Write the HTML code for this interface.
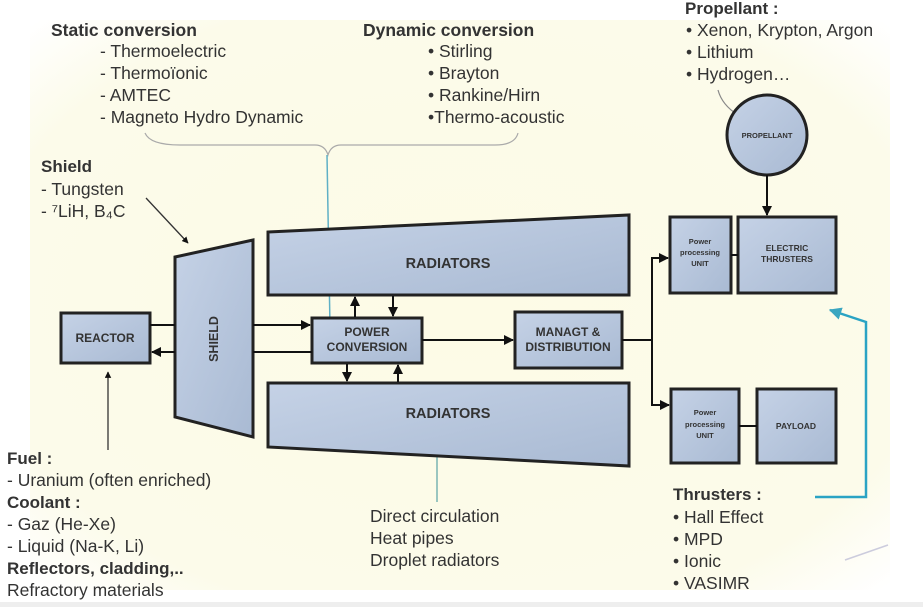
<!DOCTYPE html>
<html><head><meta charset="utf-8"><style>
html,body{margin:0;padding:0;background:#fff;}
svg{display:block;font-family:"Liberation Sans",sans-serif;}
</style></head><body>
<svg width="923" height="607" viewBox="0 0 923 607" xmlns="http://www.w3.org/2000/svg">
<defs>
<linearGradient id="g" x1="0" y1="0" x2="1" y2="1"><stop offset="0" stop-color="#c5d2e6"/><stop offset="1" stop-color="#a9bad3"/></linearGradient>
<radialGradient id="bg" cx="0.5" cy="0.5" r="0.7"><stop offset="0" stop-color="#fdfbe6"/><stop offset="0.8" stop-color="#fcfbea"/><stop offset="1" stop-color="#ffffff"/></radialGradient>
<marker id="a" viewBox="0 0 10 10" refX="9" refY="5" markerWidth="5" markerHeight="5" orient="auto"><path d="M0,0L10,5L0,10z" fill="#111"/></marker>
<marker id="t" viewBox="0 0 10 10" refX="9" refY="5" markerWidth="5" markerHeight="5" orient="auto"><path d="M0,0L10,5L0,10z" fill="#3aa6c0"/></marker>
</defs>
<rect width="923" height="607" fill="#fff"/>
<rect x="30" y="20" width="860" height="570" fill="url(#bg)"/>
<rect x="0" y="602" width="923" height="5" fill="#eee"/>

<g fill="#333" font-size="17.5" font-stretch="condensed">
<text x="51" y="36" font-weight="bold" font-size="17.5">Static conversion</text>
<text x="100" y="57">- Thermoelectric</text>
<text x="100" y="79">- Thermoïonic</text>
<text x="100" y="101">- AMTEC</text>
<text x="100" y="123">- Magneto Hydro Dynamic</text>
<text x="363" y="36" font-weight="bold" font-size="17.5">Dynamic conversion</text>
<text x="428" y="57">• Stirling</text>
<text x="428" y="79">• Brayton</text>
<text x="428" y="101">• Rankine/Hirn</text>
<text x="428" y="123">•Thermo-acoustic</text>
<text x="685" y="14" font-weight="bold" font-size="17">Propellant :</text>
<text x="686" y="36">• Xenon, Krypton, Argon</text>
<text x="686" y="58">• Lithium</text>
<text x="686" y="80">• Hydrogen…</text>
<text x="41" y="172" font-weight="bold" font-size="17">Shield</text>
<text x="41" y="195">- Tungsten</text>
<text x="41" y="217">- ⁷LiH, B₄C</text>
<text x="7" y="464" font-weight="bold" font-size="17">Fuel :</text>
<text x="7" y="486">- Uranium (often enriched)</text>
<text x="7" y="508" font-weight="bold" font-size="17">Coolant :</text>
<text x="7" y="530">- Gaz (He-Xe)</text>
<text x="7" y="552">- Liquid (Na-K, Li)</text>
<text x="7" y="574" font-weight="bold" font-size="17">Reflectors, cladding,..</text>
<text x="7" y="596">Refractory materials</text>
<text x="370" y="522">Direct circulation</text>
<text x="370" y="544">Heat pipes</text>
<text x="370" y="566">Droplet radiators</text>
<text x="673" y="500" font-weight="bold" font-size="17">Thrusters :</text>
<text x="673" y="523">• Hall Effect</text>
<text x="673" y="545">• MPD</text>
<text x="673" y="567">• Ionic</text>
<text x="673" y="589">• VASIMR</text>
</g>

<path d="M145,133 Q150,145 180,145 L315,145 Q325,145 328,155 Q331,145 341,145 L495,145 Q515,145 518,133" fill="none" stroke="#aaa" stroke-width="1.2"/>
<path d="M327,155 L330,327" stroke="#5fb0c6" stroke-width="1.5" fill="none" marker-end="url(#t)"/>
<line x1="146" y1="198" x2="188" y2="243" stroke="#333" stroke-width="1.3" marker-end="url(#a)"/>
<path d="M718,90 Q722,105 738,115" stroke="#888" stroke-width="1.2" fill="none" marker-end="url(#a)"/>
<line x1="108" y1="450" x2="108" y2="372" stroke="#333" stroke-width="1.3" marker-end="url(#a)"/>
<line x1="437" y1="502" x2="437" y2="452" stroke="#6aa" stroke-width="1.3"/>
<path d="M815,497 L866,497 L866,322 L830,310" stroke="#2aa3c4" stroke-width="2.5" fill="none" marker-end="url(#t)"/>
<path d="M845,560 L888,545" stroke="#ccd" stroke-width="1.5"/>

<g stroke="#222" stroke-width="3" fill="url(#g)">
<rect x="61" y="313" width="89" height="50"/>
<polygon points="175,257 253,240 253,437 175,417"/>
<polygon points="268,232 629,215 629,295 268,295"/>
<polygon points="268,383 629,383 629,466 268,447"/>
<rect x="312" y="318" width="110" height="45"/>
<rect x="515" y="312" width="107" height="56"/>
<rect x="670" y="217" width="61" height="76"/>
<rect x="738" y="217" width="98" height="76"/>
<rect x="671" y="389" width="68" height="74"/>
<rect x="757" y="389" width="79" height="74"/>
<circle cx="767" cy="135" r="40"/>
</g>

<g stroke="#111" stroke-width="2" fill="none">
<line x1="150" y1="325" x2="175" y2="325"/>
<line x1="175" y1="352" x2="152" y2="352" marker-end="url(#a)"/>
<line x1="253" y1="325" x2="310" y2="325" marker-end="url(#a)"/>
<line x1="253" y1="352" x2="312" y2="352"/>
<line x1="422" y1="340" x2="513" y2="340" marker-end="url(#a)"/>
<line x1="622" y1="340" x2="652" y2="340"/>
<path d="M652,405 L652,258 L668,258" marker-end="url(#a)"/>
<path d="M652,340 L652,405 L669,405" marker-end="url(#a)"/>
<line x1="731" y1="255" x2="738" y2="255"/>
<line x1="739" y1="426" x2="757" y2="426"/>
<line x1="767" y1="175" x2="767" y2="215" marker-end="url(#a)"/>
<line x1="355" y1="317" x2="355" y2="297" marker-end="url(#a)"/>
<line x1="393" y1="296" x2="393" y2="316" marker-end="url(#a)"/>
<line x1="347" y1="364" x2="347" y2="381" marker-end="url(#a)"/>
<line x1="398" y1="382" x2="398" y2="365" marker-end="url(#a)"/>
</g>

<g fill="#333" font-size="12" text-anchor="middle" font-weight="bold">
<text x="105" y="342">REACTOR</text>
<text x="448" y="268" font-size="14.5">RADIATORS</text>
<text x="448" y="418" font-size="14.5">RADIATORS</text>
<text x="367" y="336">POWER</text>
<text x="367" y="351">CONVERSION</text>
<text x="568" y="336">MANAGT &amp;</text>
<text x="568" y="351">DISTRIBUTION</text>
<text x="767" y="138" font-size="7.5">PROPELLANT</text>
<text x="787" y="251" font-size="8.5">ELECTRIC</text>
<text x="787" y="262" font-size="8.5">THRUSTERS</text>
<text x="700" y="244" font-size="7.5">Power</text>
<text x="700" y="255" font-size="7.5">processing</text>
<text x="700" y="266" font-size="7.5">UNIT</text>
<text x="705" y="415" font-size="7.5">Power</text>
<text x="705" y="427" font-size="7.5">processing</text>
<text x="705" y="438" font-size="7.5">UNIT</text>
<text x="796" y="429" font-size="8.5">PAYLOAD</text>
</g>
<text transform="translate(218,339) rotate(-90)" text-anchor="middle" font-size="12.5" font-weight="bold" fill="#333">SHIELD</text>
</svg>
</body></html>
